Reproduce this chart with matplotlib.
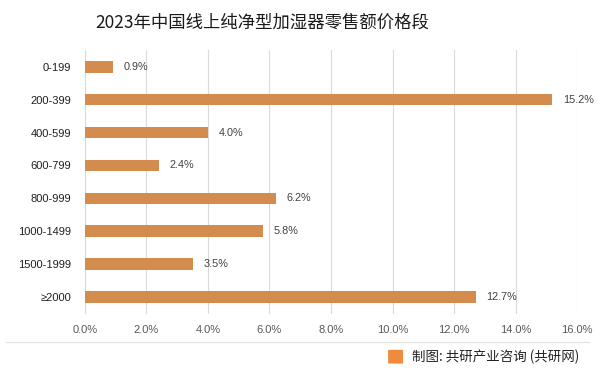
import numpy as np
import matplotlib.pyplot as plt
from matplotlib.lines import Line2D
from matplotlib.patches import FancyBboxPatch

plt.rcParams['font.family'] = ['Noto Sans CJK SC', 'DejaVu Sans']

categories = ["0-199", "200-399", "400-599", "600-799", "800-999", "1000-1499", "1500-1999", "≥2000"]
shares = [0.9, 15.2, 4.0, 2.4, 6.2, 5.8, 3.5, 12.7]
xticks = [0, 2, 4, 6, 8, 10, 12, 14, 16]

title = "2023年中国线上纯净型加湿器零售额价格段"
source = "制图: 共研产业咨询 (共研网)"

bar_color = "#D48B4E"
latin = ["Liberation Sans", "DejaVu Sans"]

fig = plt.figure(figsize=(5.98, 3.71), dpi=100)
ax = fig.add_axes([0.142, 0.154, 0.823, 0.711])

y = np.arange(len(categories))
ax.barh(y, shares, height=0.36, color=bar_color, zorder=3)
for yi, v in zip(y, shares):
    ax.text(v + 0.35, yi, "%.1f%%" % v, va="center", ha="left", fontsize=7.8, color="#404040",
            family=latin)

ax.set_ylim(len(categories) - 0.5, -0.5)
ax.set_xlim(0, 16)
ax.set_yticks(y)
ax.set_yticklabels(categories, fontsize=8, family=latin, color="#202020")
ax.set_xticks(xticks)
ax.set_xticklabels(["%.1f%%" % t for t in xticks], fontsize=8, color="#595959", family=latin)
ax.tick_params(length=0, pad=8)
ax.tick_params(axis="y", pad=10)
ax.grid(axis="x", color="#D9D9D9", linewidth=0.8, zorder=0)
for s in ax.spines.values():
    s.set_visible(False)

fig.text(262 / 598, 0.94, title, ha="center", va="center", fontsize=12.5, color="#1a1a1a")

fig.add_artist(Line2D([0.01, 0.985], [1 - 342 / 371, 1 - 342 / 371], color="#E0E0E0", linewidth=0.8))

# logo + source
fig.add_artist(FancyBboxPatch((0.651, 0.022), 0.021, 0.033, boxstyle="round,pad=0.002",
                              facecolor="#F08A3C", edgecolor="none", transform=fig.transFigure))
fig.text(0.689, 0.038, source, ha="left", va="center", fontsize=9.7, color="#222222")

fig.savefig("out.png", dpi=100)
